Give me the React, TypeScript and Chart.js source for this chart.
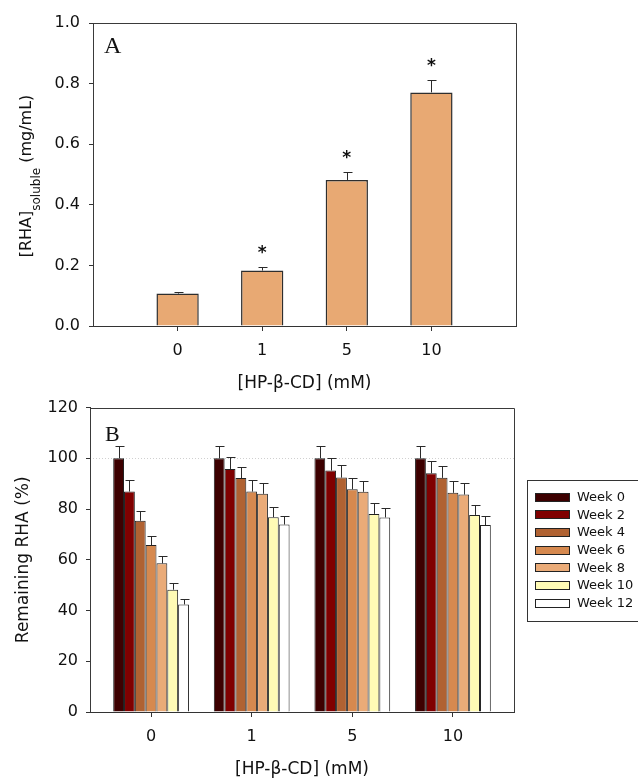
import React, { useEffect, useRef } from 'react';
import { Chart, registerables } from 'chart.js';

Chart.register(...registerables);

// ---------- data ----------
const CONC_LABELS = ['0', '1', '5', '10'];

const A_VALUES = [0.107, 0.183, 0.482, 0.771];
const A_ERRORS = [0.005, 0.011, 0.025, 0.040];
const A_STARS = [false, true, true, true];
const A_Y_TICKS = [0, 0.2, 0.4, 0.6, 0.8, 1.0];

const WEEK_LABELS = ['Week 0', 'Week 2', 'Week 4', 'Week 6', 'Week 8', 'Week 10', 'Week 12'];
const WEEK_0 = [100, 100, 100, 100];
const WEEK_2 = [86.9, 95.8, 95.2, 94.1];
const WEEK_4 = [75.4, 92.2, 92.4, 92.3];
const WEEK_6 = [65.8, 86.9, 87.8, 86.4];
const WEEK_8 = [58.6, 86.0, 86.8, 85.7];
const WEEK_10 = [48.2, 76.8, 78.1, 77.7];
const WEEK_12 = [42.4, 73.9, 76.7, 73.7];

const ERR_0 = [4.8, 4.8, 4.8, 4.8];
const ERR_2 = [4.5, 4.9, 5.0, 4.9];
const ERR_4 = [3.9, 4.4, 5.0, 4.7];
const ERR_6 = [3.5, 4.5, 4.6, 4.5];
const ERR_8 = [2.8, 4.3, 4.4, 4.4];
const ERR_10 = [2.6, 3.9, 4.1, 3.8];
const ERR_12 = [2.0, 3.4, 3.7, 3.5];

const B_Y_TICKS = [0, 20, 40, 60, 80, 100, 120];
const B_REFERENCE = 100;

// ---------- styles ----------
const FONT = '"DejaVu Sans", sans-serif';
const SERIF = '"Liberation Serif", "DejaVu Serif", serif';
const INK = '#111111';
const AXIS = '#333333';
const A_COLOR = '#E8A973';
const WEEK_COLORS = ['#3D0000', '#800000', '#B06232', '#D6894F', '#EAAB78', '#FFFBB5', '#FFFFFF'];

const WEEK_SERIES = [WEEK_0, WEEK_2, WEEK_4, WEEK_6, WEEK_8, WEEK_10, WEEK_12];
const WEEK_ERRORS = [ERR_0, ERR_2, ERR_4, ERR_6, ERR_8, ERR_10, ERR_12];

const px = (v: number) => Math.round(v) + 0.5;

const framePlugin = {
  id: 'frame',
  afterDraw(chart: any) {
    const { ctx, chartArea } = chart;
    const { left, top, right, bottom } = chartArea;
    ctx.save();
    ctx.strokeStyle = '#3a3a3a';
    ctx.lineWidth = 1;
    ctx.beginPath();
    ctx.moveTo(px(left), px(bottom));
    ctx.lineTo(px(left), px(top));
    ctx.lineTo(px(right), px(top));
    ctx.lineTo(px(right), px(bottom));
    ctx.stroke();
    ctx.restore();
  },
};

function makeErrorPlugin(errors: number[][], capHalf: number) {
  return {
    id: 'errorBars',
    afterDatasetsDraw(chart: any) {
      const { ctx } = chart;
      const y = chart.scales.y;
      ctx.save();
      ctx.strokeStyle = '#2a2a2a';
      ctx.lineWidth = 1;
      chart.data.datasets.forEach((ds: any, di: number) => {
        const meta = chart.getDatasetMeta(di);
        meta.data.forEach((bar: any, i: number) => {
          const v = ds.data[i].y;
          const e = errors[di][i];
          const yb = y.getPixelForValue(v);
          const yt = px(y.getPixelForValue(v + e));
          const x = px(bar.x);
          ctx.beginPath();
          ctx.moveTo(x, yb);
          ctx.lineTo(x, yt);
          ctx.moveTo(x - capHalf, yt);
          ctx.lineTo(x + capHalf + 1, yt);
          ctx.stroke();
        });
      });
      ctx.restore();
    },
  };
}

const starPlugin = {
  id: 'stars',
  afterDatasetsDraw(chart: any) {
    const { ctx } = chart;
    const y = chart.scales.y;
    const meta = chart.getDatasetMeta(0);
    const ds = chart.data.datasets[0];
    ctx.save();
    ctx.fillStyle = INK;
    ctx.font = `bold 17px ${FONT}`;
    ctx.textAlign = 'center';
    ctx.textBaseline = 'alphabetic';
    meta.data.forEach((bar: any, i: number) => {
      if (!A_STARS[i]) return;
      const top = y.getPixelForValue(ds.data[i].y + A_ERRORS[i]);
      const cy = top - 19;
      ctx.fillText('*', bar.x, cy + 10);
    });
    ctx.restore();
  },
};

function makePanelLetter(letter: string, x: number, y: number, size: number) {
  return {
    id: 'panelLetter',
    afterDraw(chart: any) {
      const { ctx } = chart;
      ctx.save();
      ctx.fillStyle = INK;
      ctx.font = `${size}px ${SERIF}`;
      ctx.textAlign = 'left';
      ctx.textBaseline = 'alphabetic';
      ctx.fillText(letter, x, y);
      ctx.restore();
    },
  };
}

const yTitleA = {
  id: 'yTitleA',
  afterDraw(chart: any) {
    const { ctx } = chart;
    const main1 = '[RHA]';
    const sub = 'soluble';
    const main2 = ' (mg/mL)';
    ctx.save();
    ctx.fillStyle = INK;
    ctx.font = `16px ${FONT}`;
    const w1 = ctx.measureText(main1).width;
    const w3 = ctx.measureText(main2).width;
    ctx.font = `12px ${FONT}`;
    const w2 = ctx.measureText(sub).width;
    const total = w1 + w2 + w3;
    ctx.translate(30.5, 176);
    ctx.rotate(-Math.PI / 2);
    ctx.textAlign = 'left';
    ctx.textBaseline = 'alphabetic';
    let x = -total / 2;
    ctx.font = `16px ${FONT}`;
    ctx.fillText(main1, x, 0);
    x += w1;
    ctx.font = `12px ${FONT}`;
    ctx.fillText(sub, x, 9);
    x += w2;
    ctx.font = `16px ${FONT}`;
    ctx.fillText(main2, x, 0);
    ctx.restore();
  },
};

const yTitleB = {
  id: 'yTitleB',
  afterDraw(chart: any) {
    const { ctx, chartArea } = chart;
    ctx.save();
    ctx.fillStyle = INK;
    ctx.font = `17px ${FONT}`;
    ctx.translate(28, (chartArea.top + chartArea.bottom) / 2);
    ctx.rotate(-Math.PI / 2);
    ctx.textAlign = 'center';
    ctx.textBaseline = 'alphabetic';
    ctx.fillText('Remaining RHA (%)', 0, 0);
    ctx.restore();
  },
};

const referenceLine = {
  id: 'refLine',
  beforeDatasetsDraw(chart: any) {
    const { ctx, chartArea } = chart;
    const y = px(chart.scales.y.getPixelForValue(B_REFERENCE));
    ctx.save();
    ctx.strokeStyle = '#d0d0d0';
    ctx.lineWidth = 1;
    ctx.setLineDash([1, 2]);
    ctx.beginPath();
    ctx.moveTo(chartArea.left, y);
    ctx.lineTo(chartArea.right, y);
    ctx.stroke();
    ctx.restore();
  },
};

const legendB = {
  id: 'legendB',
  afterDraw(chart: any) {
    const { ctx } = chart;
    ctx.save();
    ctx.strokeStyle = '#333';
    ctx.lineWidth = 1;
    ctx.strokeRect(527.5, 90.5, 130, 141);
    ctx.font = `13px ${FONT}`;
    ctx.textAlign = 'left';
    ctx.textBaseline = 'middle';
    chart.data.datasets.forEach((ds: any, i: number) => {
      const cy = 107 + i * 17.7;
      ctx.fillStyle = ds.backgroundColor;
      ctx.fillRect(535, Math.round(cy - 4.5), 35, 9);
      ctx.strokeStyle = '#222';
      ctx.strokeRect(535.5, Math.round(cy - 4.5) + 0.5, 34, 8);
      ctx.fillStyle = INK;
      ctx.fillText(ds.label, 577, cy + 0.5);
    });
    ctx.restore();
  },
};

function xAxis(min: number, max: number, height: number, titlePadBottom: number) {
  return {
    type: 'linear' as const,
    min,
    max,
    offset: false,
    afterBuildTicks: (s: any) => {
      s.ticks = CONC_LABELS.map((_, i) => ({ value: i }));
    },
    afterFit: (s: any) => {
      s.height = height;
    },
    ticks: {
      callback: (v: any) => CONC_LABELS[v] ?? '',
      color: INK,
      font: { family: FONT, size: 16 },
      padding: 10,
      autoSkip: false,
      maxRotation: 0,
    },
    grid: { drawOnChartArea: false, drawTicks: true, tickLength: 5, color: AXIS, offset: false },
    border: { display: true, color: AXIS, width: 1 },
    title: {
      display: true,
      text: '[HP-β-CD] (mM)',
      color: INK,
      font: { family: FONT, size: 17, lineHeight: 1.2 },
      padding: { top: 0, bottom: titlePadBottom },
    },
  };
}

function yAxis(min: number, max: number, ticks: number[], width: number, fmt: (v: number) => string, pad: number) {
  return {
    type: 'linear' as const,
    min,
    max,
    afterBuildTicks: (s: any) => {
      s.ticks = ticks.map((v) => ({ value: v }));
    },
    afterFit: (s: any) => {
      s.width = width;
    },
    ticks: {
      callback: (v: any) => fmt(Number(v)),
      color: INK,
      font: { family: FONT, size: 16 },
      padding: pad,
    },
    grid: { drawOnChartArea: false, drawTicks: true, tickLength: 4, color: AXIS },
    border: { display: true, color: AXIS, width: 1 },
    title: { display: false },
  };
}

export default function App() {
  const refA = useRef<HTMLCanvasElement | null>(null);
  const refB = useRef<HTMLCanvasElement | null>(null);

  useEffect(() => {
    const chartA = new Chart(refA.current as HTMLCanvasElement, {
      type: 'bar',
      data: {
        datasets: [
          {
            label: '[RHA] soluble',
            data: A_VALUES.map((v, i) => ({ x: i, y: v })),
            backgroundColor: A_COLOR,
            borderColor: '#2e2e2e',
            borderWidth: 1.5,
            barPercentage: 0.5,
            categoryPercentage: 1,
          } as any,
        ],
      },
      options: {
        responsive: false,
        animation: false,
        devicePixelRatio: 1,
        events: [],
        layout: { padding: { left: 0, top: 23, right: 122, bottom: 0 } },
        plugins: { legend: { display: false }, tooltip: { enabled: false } },
        scales: {
          x: xAxis(-1, 4, 74, 6) as any,
          y: yAxis(0, 1, A_Y_TICKS, 93, (v) => v.toFixed(1), 9) as any,
        },
      },
      plugins: [framePlugin, makeErrorPlugin([A_ERRORS], 4), starPlugin, makePanelLetter('A', 104, 53, 24), yTitleA],
    });

    const chartB = new Chart(refB.current as HTMLCanvasElement, {
      type: 'bar',
      data: {
        datasets: WEEK_LABELS.map((label, k) => ({
          label,
          data: WEEK_SERIES[k].map((v, i) => ({ x: i, y: v })),
          backgroundColor: WEEK_COLORS[k],
          borderColor: '#222222',
          borderWidth: 1,
          barPercentage: 1,
          categoryPercentage: 0.753,
        })) as any,
      },
      options: {
        responsive: false,
        animation: false,
        devicePixelRatio: 1,
        events: [],
        layout: { padding: { left: 0, top: 17, right: 124, bottom: 0 } },
        plugins: { legend: { display: false }, tooltip: { enabled: false } },
        scales: {
          x: xAxis(-0.607, 3.607, 68, 0) as any,
          y: yAxis(0, 120, B_Y_TICKS, 90, (v) => String(Math.round(v)), 8) as any,
        },
      },
      plugins: [referenceLine, framePlugin, makeErrorPlugin(WEEK_ERRORS, 4), makePanelLetter('B', 105, 51, 22), yTitleB, legendB],
    });

    return () => {
      chartA.destroy();
      chartB.destroy();
    };
  }, []);

  return (
    <div style={{ position: 'absolute', left: 0, top: 0, width: 638, height: 780, background: '#ffffff', overflow: 'hidden' }}>
      <canvas ref={refA} width={638} height={400} style={{ position: 'absolute', left: 0, top: 0, width: 638, height: 400 }} />
      <canvas ref={refB} width={638} height={390} style={{ position: 'absolute', left: 0, top: 390, width: 638, height: 390 }} />
    </div>
  );
}
